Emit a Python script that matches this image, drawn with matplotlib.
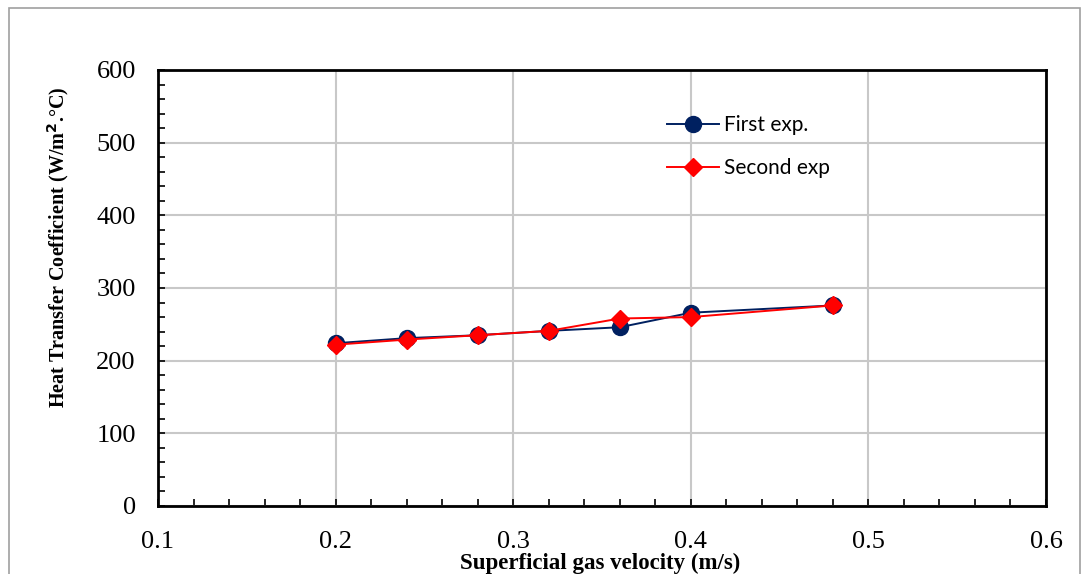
import matplotlib.pyplot as plt
from matplotlib.patches import Rectangle
from matplotlib.ticker import MultipleLocator

# Data
velocity = [0.20, 0.24, 0.28, 0.32, 0.36, 0.40, 0.48]
first_exp = [224, 231, 235, 241, 246, 266, 276]
second_exp = [222, 229, 235, 241, 258, 260, 276]
x_ticks = [0.1, 0.2, 0.3, 0.4, 0.5, 0.6]
x_tick_labels = ["0.1", "0.2", "0.3", "0.4", "0.5", "0.6"]

W, H = 1086, 574
fig = plt.figure(figsize=(W / 100, H / 100), dpi=100)

# outer chart border (Excel chart area)
fig.patches.append(Rectangle((9 / W, -0.05), (1080 - 9) / W, 1.05 - 8 / H,
                             transform=fig.transFigure, fill=False,
                             edgecolor="#a0a0a0", linewidth=1.2))

ax = fig.add_axes([158 / W, 1 - 506 / H, (1046 - 158) / W, (506 - 70) / H])

ax.plot(velocity, first_exp, color="#002060", linewidth=1.4, marker="o",
        markersize=11.5, label="First exp.", zorder=3)
ax.plot(velocity, second_exp, color="#ff0000", linewidth=1.4, marker="D",
        markersize=9, label="Second exp", zorder=4)

ax.set_xlim(0.1, 0.6)
ax.set_ylim(0, 600)
ax.set_xticks(x_ticks)
ax.set_xticklabels(x_tick_labels)
ax.xaxis.set_minor_locator(MultipleLocator(0.02))
ax.yaxis.set_major_locator(MultipleLocator(100))
ax.yaxis.set_minor_locator(MultipleLocator(20))

ax.grid(True, which="major", color="#c8c8c8", linewidth=1.5)
ax.set_axisbelow(True)

for s in ax.spines.values():
    s.set_linewidth(2.0)
    s.set_color("black")

ax.tick_params(which="both", direction="in", length=5, width=1.2,
               top=False, right=False)
ax.tick_params(axis="y", which="major", labelsize=19, pad=16)
ax.tick_params(axis="x", which="major", labelsize=19, pad=18)
for lab in ax.get_xticklabels() + ax.get_yticklabels():
    lab.set_fontfamily("Liberation Serif")

fig.text(600 / W, 1 - 563 / H, "Superficial gas velocity (m/s)",
         ha="center", va="center", fontfamily="Liberation Serif",
         fontweight="bold", fontsize=16.5)
fig.text(58 / W, 1 - 247 / H, "Heat Transfer Coefficient (W/m$^{\\mathbf{2}}$.°C)",
         ha="center", va="center", rotation=90, fontfamily="Liberation Serif",
         fontweight="bold", fontsize=14.5)

leg = ax.legend(loc="upper left", bbox_to_anchor=(0.5516, 0.94), frameon=False,
                prop={"family": "Lato", "size": 15}, handlelength=2.5,
                labelspacing=1.1, handletextpad=0.25)

fig.savefig("out.png", dpi=100)
